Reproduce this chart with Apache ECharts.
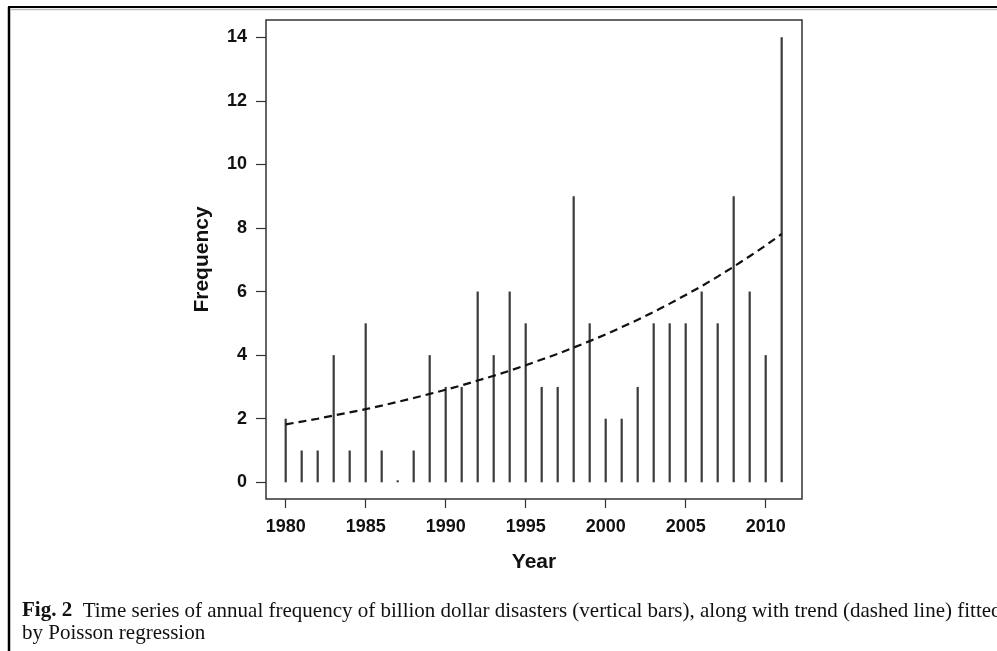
<!DOCTYPE html>
<html>
<head>
<meta charset="utf-8">
<script src="https://cdn.jsdelivr.net/npm/echarts@6/dist/echarts.min.js"></script>
<style>
  html, body { margin: 0; padding: 0; background: #fff; }
  #chart { width: 997px; height: 651px; }
</style>
</head>
<body>
<div id="chart"></div>
<script>
// 年份
var years = [1980, 1981, 1982, 1983, 1984, 1985, 1986, 1987, 1988, 1989,
             1990, 1991, 1992, 1993, 1994, 1995, 1996, 1997, 1998, 1999,
             2000, 2001, 2002, 2003, 2004, 2005, 2006, 2007, 2008, 2009,
             2010, 2011];
// 每年十亿美元灾害次数
var frequency = [2, 1, 1, 4, 1, 5, 1, 0, 1, 4,
                 3, 3, 6, 4, 6, 5, 3, 3, 9, 5,
                 2, 2, 3, 5, 5, 5, 6, 5, 9, 6,
                 4, 14];
// 泊松回归趋势
var trend = [1.82, 1.91, 2.00, 2.10, 2.20, 2.30, 2.41, 2.53, 2.65, 2.78,
             2.91, 3.05, 3.20, 3.35, 3.51, 3.68, 3.86, 4.04, 4.24, 4.44,
             4.65, 4.88, 5.11, 5.36, 5.62, 5.89, 6.17, 6.47, 6.78, 7.11,
             7.45, 7.81];
var xTicks = [1980, 1985, 1990, 1995, 2000, 2005, 2010];
var yTicks = [0, 2, 4, 6, 8, 10, 12, 14];

var captionBold = 'Fig. 2';
var captionLine1 = 'Time series of annual frequency of billion dollar disasters (vertical bars), along with trend (dashed line) fitted';
var captionLine2 = 'by Poisson regression';

var barData = years.map(function (y, i) { return [y, frequency[i]]; });
var trendData = years.map(function (y, i) { return [y, trend[i]]; });

var sansFont = 'Liberation Sans, Arial, sans-serif';

var myChart = echarts.init(document.getElementById('chart'));
var option = {
  backgroundColor: '#fff',
  animation: false,
  grid: {
    left: 266, right: 195, top: 20, bottom: 152,
    show: true, borderColor: '#333', borderWidth: 1.5, backgroundColor: 'transparent'
  },
  xAxis: {
    type: 'value',
    min: 1978.77, max: 2012.27,
    splitLine: { show: false },
    axisLine: { show: false, onZero: false },
    axisTick: { show: true, length: 9, lineStyle: { color: '#333', width: 1.2 }, customValues: xTicks },
    axisLabel: { margin: 19, customValues: xTicks, formatter: function (v) { return String(v); }, color: '#111', fontFamily: sansFont, fontWeight: 'bold', fontSize: 18 },
    name: 'Year',
    nameLocation: 'middle',
    nameGap: 53,
    nameTextStyle: { color: '#111', fontFamily: sansFont, fontWeight: 'bold', fontSize: 21 }
  },
  yAxis: {
    type: 'value',
    min: -0.525, max: 14.54,
    splitLine: { show: false },
    axisLine: { show: false, onZero: false },
    axisTick: { show: true, length: 10, lineStyle: { color: '#333', width: 1.2 }, customValues: yTicks },
    axisLabel: { margin: 19, customValues: yTicks, color: '#111', fontFamily: sansFont, fontWeight: 'bold', fontSize: 18 },
    name: 'Frequency',
    nameLocation: 'middle',
    nameRotate: 90,
    nameGap: 53,
    nameTextStyle: { color: '#111', fontFamily: sansFont, fontWeight: 'bold', fontSize: 21 }
  },
  series: [
    {
      type: 'bar',
      data: barData,
      barWidth: 2.2,
      barMinHeight: 2,
      itemStyle: { color: '#3a3a3a' },
      silent: true
    },
    {
      type: 'line',
      data: trendData,
      symbol: 'none',
      lineStyle: { color: '#111', width: 2.2, type: [8, 5] },
      silent: true,
      z: 3
    }
  ],
  graphic: [
    // 外框
    { type: 'line', shape: { x1: 9, y1: 7, x2: 9, y2: 651 }, style: { stroke: '#000', lineWidth: 2.5 } },
    { type: 'line', shape: { x1: 8, y1: 7, x2: 997, y2: 7 }, style: { stroke: '#000', lineWidth: 2 } },
    { type: 'line', shape: { x1: 10, y1: 9.5, x2: 997, y2: 9.5 }, style: { stroke: '#bbb', lineWidth: 1.5 } },
    {
      type: 'text', left: 22, top: 600,
      style: {
        text: '{b|' + captionBold + '}  ' + captionLine1 + '\n' + captionLine2,
        font: '21px "Liberation Serif", "Times New Roman", serif',
        fill: '#111',
        lineHeight: 22,
        rich: { b: { fontWeight: 'bold', fontSize: 21, fontFamily: 'Liberation Serif', fill: '#111', lineHeight: 22 } }
      }
    }
  ]
};
myChart.setOption(option);
window.onresize = myChart.resize;
</script>
</body>
</html>
